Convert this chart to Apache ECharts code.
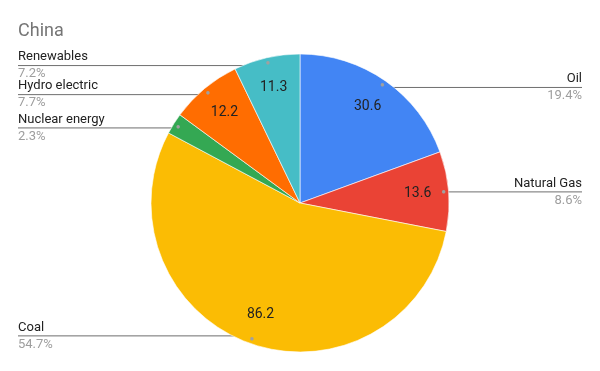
<!DOCTYPE html>
<html>
<head>
<meta charset="utf-8">
<script src="https://cdn.jsdelivr.net/npm/echarts@6/dist/echarts.min.js"></script>
<style>html,body{margin:0;padding:0;background:#fff}#c{width:600px;height:371px}</style>
</head>
<body>
<div id="c"></div>
<script>
var categories = ['Oil', 'Natural Gas', 'Coal', 'Nuclear energy', 'Hydro electric', 'Renewables'];
var values = [30.6, 13.6, 86.2, 3.6, 12.2, 11.3];
var colors = ['#4285F4', '#EA4335', '#FBBC04', '#34A853', '#FF6D01', '#46BDC6'];
var titleText = 'China';

var total = values.reduce(function (a, b) { return a + b; }, 0);
var pieData = categories.map(function (n, i) { return { name: n, value: values[i] }; });

var chart = echarts.init(document.getElementById('c'), null, { renderer: 'canvas' });
var CENTER = ['50%', 203];
var R = 149;
var INSET = 8;

chart.setOption({
  animation: false,
  color: colors,
  title: {
    text: titleText, left: 18, top: 22, padding: 0,
    textStyle: { fontFamily: 'Roboto', fontSize: 18, fontWeight: 'normal', color: '#757575' }
  },
  series: [
    {
      type: 'pie', center: CENTER, radius: R, startAngle: 90, clockwise: true,
      avoidLabelOverlap: false, silent: true,
      itemStyle: { borderColor: '#ffffff', borderWidth: 0.6 },
      emphasis: { disabled: true },
      data: pieData,
      label: {
        show: true, position: 'outside', alignTo: 'edge', edgeDistance: 18,
        fontFamily: 'Roboto',
        formatter: function (p) {
          return '{n|' + p.name + '}\n{p|' + (p.value / total * 100).toFixed(1) + '%}';
        },
        rich: {
          n: { fontFamily: 'Roboto', fontSize: 13, color: '#222222', lineHeight: 17 },
          p: { fontFamily: 'Roboto', fontSize: 13, color: '#9e9e9e', lineHeight: 17 }
        }
      },
      labelLine: { show: true, length: 10, length2: 10, lineStyle: { color: '#6e6e6e', width: 1 } },
      labelLayout: function (params) {
        var pts = params.labelLinePoints;
        if (!pts) return {};
        var p0 = pts[0], p1 = pts[1];
        var dx = p1[0] - p0[0], dy = p1[1] - p0[1];
        var len = Math.sqrt(dx * dx + dy * dy) || 1;
        var dot = [p0[0] - dx / len * INSET, p0[1] - dy / len * INSET];
        var isLeft = params.labelRect.x < chart.getWidth() / 2;
        var endX = isLeft ? params.labelRect.x : params.labelRect.x + params.labelRect.width;
        return { y: dot[1], labelLinePoints: [dot, [dot[0], dot[1]], [endX, dot[1]]] };
      }
    },
    {
      type: 'pie', center: CENTER, radius: [81, R], startAngle: 90, clockwise: true,
      silent: true, avoidLabelOverlap: false, minShowLabelAngle: 10,
      emphasis: { disabled: true },
      itemStyle: { color: 'rgba(0,0,0,0)', borderWidth: 0 },
      data: pieData,
      label: { show: true, position: 'inside', formatter: '{c}', fontFamily: 'Roboto', fontSize: 14, color: '#222222' },
      labelLine: { show: false }
    },
    {
      type: 'pie', center: CENTER, radius: [R - 2 * INSET, R], startAngle: 90, clockwise: true,
      silent: true, avoidLabelOverlap: false,
      emphasis: { disabled: true },
      itemStyle: { color: 'rgba(0,0,0,0)', borderWidth: 0 },
      data: pieData,
      label: { show: true, position: 'inside', formatter: '●', fontSize: 8, color: '#a0a0a0' },
      labelLine: { show: false }
    }
  ]
});
</script>
</body>
</html>
